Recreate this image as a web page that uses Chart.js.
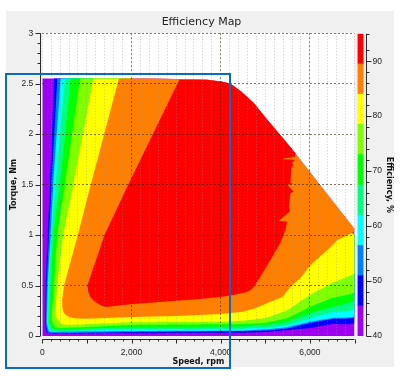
<!DOCTYPE html>
<html>
<head>
<meta charset="utf-8">
<style>
html,body{margin:0;padding:0;background:#fff;width:400px;height:380px;overflow:hidden}
#panel{position:absolute;left:6px;top:11px;width:388px;height:356px;background:#f0f0f0}
#wrapMain{position:absolute;left:0;top:0;width:400px;height:380px}
#wrapBar{position:absolute;left:352px;top:0;width:42px;height:380px}
#frame{position:absolute;left:5px;top:73px;width:226px;height:296px;box-sizing:border-box;border:2px solid #0a6cbf;pointer-events:none}
canvas{display:block}
</style>
<script src="https://cdn.jsdelivr.net/npm/chart.js@4/dist/chart.umd.min.js"></script>
</head>
<body>
<div id="panel"></div>
<div id="wrapMain"><canvas id="main" width="400" height="380"></canvas></div>
<div id="wrapBar"><canvas id="bar" width="42" height="380"></canvas></div>
<div id="frame"></div>
<script>
const titleText = "Efficiency Map";
const xTitle = "Speed, rpm";
const yTitle = "Torque, Nm";
const barTitle = "Efficiency, %";

const envelopeSpeed = [0,2500,3700,4040,4220,4440,4735,5050,5340,5680,6310,7000];
const envelopeTorque = [2.55,2.55,2.54,2.52,2.5,2.43,2.31,2.14,1.99,1.806,1.45,1.06];
const innerSpeed = [7000,2000];
const innerTorque = [1.0,2.55];

const blueSpeed = [263,173,121,76,70,110,500,2000,4000,4500,5000,5500,6000,6500,7000];
const blueTorque = [2.55,1.5,1,.5,.1,.03,.025,.027,.033,.033,.04,.06,.08,.119,.129];
const azureSpeed = [337,211,151,99,85,130,500,2000,4000,4500,5000,5500,6000,6500,7000];
const azureTorque = [2.55,1.5,1,.5,.12,.035,.03,.04,.047,.05,.055,.075,.129,.169,.188];
const cyanSpeed = [413,247,189,120,105,160,500,2000,4000,4500,5000,5500,6000,6500,7000];
const cyanTorque = [2.55,1.5,1,.5,.12,.045,.045,.05,.052,.053,.066,.09,.142,.179,.198];
const springSpeed = [510,301,211,151,130,190,500,2000,4000,4500,5000,5500,6000,6500,7000];
const springTorque = [2.55,1.5,1,.5,.13,.055,.05,.066,.072,.072,.083,.109,.179,.238,.268];
const greenSpeed = [638,398,247,189,165,240,500,2000,4000,4500,5000,5500,6000,6500,7000];
const greenTorque = [2.55,1.5,1,.5,.14,.07,.065,.086,.092,.095,.109,.142,.228,.288,.357];
const limeSpeed = [847,510,337,263,210,300,500,2000,4000,4500,5000,5500,6000,6500,7000];
const limeTorque = [2.55,1.5,1,.5,.15,.085,.08,.109,.116,.119,.132,.179,.288,.377,.437];
const yellowSpeed = [1146,697,472,337,300,420,600,2000,4000,4500,5000,5500,6000,6500,7000];
const yellowTorque = [2.55,1.5,1,.5,.2,.12,.109,.136,.142,.152,.179,.258,.407,.526,.625];
const orangeSpeed = [1717,1088,796,488,445,450,480,560,700,1000,2000,3000,4000,4500,4780,5050,5385,5565,5790,6015,6395,6620,7000];
const orangeTorque = [2.55,1.5,1,.5,.36,.28,.23,.195,.175,.17,.188,.198,.218,.24,.274,.327,.387,.489,.575,.704,.853,.952,1.032];
const redSpeed = [3072,1928,1393,1011,1030,1075,1180,1297,1410,2040,3540,3990,4285,4600,4725,4845,5115,5340,5450,5490,5300,5550,5530,5565,5640,5490,5640,5565,5580,5640,5600,5670,5415,5415,5655,5680];
const redTorque = [2.54,1.5,1,.5,.44,.387,.34,.308,.288,.317,.367,.387,.407,.437,.476,.556,.754,.923,1.05,1.134,1.14,1.233,1.283,1.415,1.43,1.498,1.505,1.515,1.663,1.696,1.713,1.746,1.75,1.76,1.77,1.81];

const purpleCol = "#a000f0", blueCol = "#0000ff", azureCol = "#0080ff", cyanCol = "#00ffff", springCol = "#00ff80",
      greenCol = "#00ff00", limeCol = "#80ff00", yellowCol = "#ffff00", orangeCol = "#ff8000", redCol = "#ff0000";

const barEdges = [40,45.5,51,56.5,62,67.5,73,78.5,84,89.5,95];
const barColors = [purpleCol,blueCol,azureCol,cyanCol,springCol,greenCol,limeCol,yellowCol,orangeCol,redCol];

const xTickLabels = [0,2000,4000,6000];
const yTickLabels = [0,0.5,1,1.5,2,2.5,3];
const barTickLabels = [40,50,60,70,80,90];

function shape(pts,color,tension){
  return {data:pts,showLine:true,fill:'shape',backgroundColor:color,borderWidth:0,borderColor:color,pointRadius:0,tension:tension};
}
/* lower bands close inside the orange region, so they never touch the outer limit curve */
function lowerBand(speeds, torques, color){
  const pts = speeds.map((s,i)=>({x:s,y:torques[i]}));
  innerSpeed.forEach((s,i)=>pts.push({x:s,y:innerTorque[i]}));
  return shape(pts,color,0.12);
}
/* upper bands close along the outer limit curve */
function upperBand(speeds, torques, color){
  const pts = speeds.map((s,i)=>({x:s,y:torques[i]}));
  const first = speeds[0], last = speeds[speeds.length-1];
  if(last===7000) pts.push({x:7000,y:envelopeTorque[envelopeTorque.length-1]});
  for(let i=envelopeSpeed.length-1;i>=0;i--){
    const s = envelopeSpeed[i];
    if(s>first && s<last) pts.push({x:s,y:envelopeTorque[i]});
  }
  return shape(pts,color,0);
}
const purplePts=[{x:0,y:0},{x:7000,y:0}];
for(let i=envelopeSpeed.length-1;i>=0;i--) purplePts.push({x:envelopeSpeed[i],y:envelopeTorque[i]});

function axisPlugin(specs, white){
  return {
    id:'offsetAxes',
    beforeDraw(chart){
      if(white){
        const a=chart.chartArea;
        chart.ctx.fillStyle='#fff';
        chart.ctx.fillRect(a.left,a.top,a.right-a.left,a.bottom-a.top);
      }
    },
    afterDraw(chart){
      const ctx=chart.ctx;
      ctx.save();
      ctx.strokeStyle='#2a2a2a';
      ctx.lineWidth=1;
      Object.values(chart.scales).forEach(sc=>{
        const spec=specs[sc.id];
        if(!spec) return;
        const a=chart.chartArea;
        ctx.beginPath();
        sc.ticks.forEach((t,i)=>{
          const p=Math.round(sc.getPixelForTick(i))+.5;
          const len=spec.major(t.value)?spec.lenMajor:spec.lenMinor;
          if(spec.side==='bottom'){ const y=Math.round(a.bottom+spec.gap)+.5; ctx.moveTo(p,y); ctx.lineTo(p,y+len); }
          if(spec.side==='left'){ const x=Math.round(a.left-spec.gap)+.5; ctx.moveTo(x,p); ctx.lineTo(x-len,p); }
          if(spec.side==='right'){ const x=Math.round(a.right+spec.gap)+.5; ctx.moveTo(x,p); ctx.lineTo(x+len,p); }
        });
        if(spec.side==='bottom'){ const y=Math.round(a.bottom+spec.gap)+.5; ctx.moveTo(a.left,y); ctx.lineTo(a.right,y); }
        if(spec.side==='left'){ const x=Math.round(a.left-spec.gap)+.5; ctx.moveTo(x,a.top); ctx.lineTo(x,a.bottom); }
        if(spec.side==='right'){ const x=Math.round(a.right+spec.gap)+.5; ctx.moveTo(x,a.top); ctx.lineTo(x,a.bottom+.5); }
        ctx.stroke();
      });
      ctx.restore();
    }
  };
}

const tickFont = {family:'"Liberation Sans"',size:8.5};
const titleFont = {family:'"DejaVu Sans"',size:8,weight:'bold'};
const darkGrid = 'rgba(50,35,0,0.62)';
const lightGrid = 'rgba(150,150,150,0.5)';

new Chart(document.getElementById('main'),{
  type:'scatter',
  data:{datasets:[
    upperBand(redSpeed,redTorque,redCol),
    upperBand(orangeSpeed,orangeTorque,orangeCol),
    lowerBand(yellowSpeed,yellowTorque,yellowCol),
    lowerBand(limeSpeed,limeTorque,limeCol),
    lowerBand(greenSpeed,greenTorque,greenCol),
    lowerBand(springSpeed,springTorque,springCol),
    lowerBand(cyanSpeed,cyanTorque,cyanCol),
    lowerBand(azureSpeed,azureTorque,azureCol),
    lowerBand(blueSpeed,blueTorque,blueCol),
    shape(purplePts,purpleCol,0)
  ]},
  plugins:[axisPlugin({
    x:{side:'bottom',gap:3,lenMajor:4,lenMinor:2,major:v=>v%1000===0},
    y:{side:'left',gap:2,lenMajor:5,lenMinor:3,major:v=>Math.round(v*10)%5===0}
  },true)],
  options:{
    responsive:false,animation:false,
    layout:{padding:{left:3,right:0,top:0,bottom:0}},
    plugins:{
      legend:{display:false},tooltip:{enabled:false},
      title:{display:true,text:titleText,color:'#222',font:{family:'"DejaVu Sans"',size:11,weight:'normal'},padding:{top:16,bottom:4}}
    },
    scales:{
      x:{type:'linear',min:0,max:7000,
        afterFit(s){s.height=44;},
        border:{display:false,dash:c=>(c.tick&&c.tick.value%2000===0&&c.tick.value>0)?[2,2]:[1,2]},
        grid:{z:1,drawTicks:false,lineWidth:1,color:c=>(c.tick.value%2000===0&&c.tick.value>0)?darkGrid:lightGrid},
        ticks:{stepSize:200,autoSkip:false,maxRotation:0,minRotation:0,padding:12,color:'#222',font:tickFont,
          callback:v=>xTickLabels.includes(v)?v.toLocaleString('en-US'):''},
        title:{display:true,text:xTitle,color:'#111',font:titleFont,padding:{top:0,bottom:13}}
      },
      y:{type:'linear',min:0,max:3,
        afterFit(s){s.width=39.3;},
        border:{display:false,dash:[2,2]},
        grid:{z:1,drawTicks:false,lineWidth:1,color:c=>{const t=Math.round(c.tick.value*10);return t%5!==0||t===0?'rgba(0,0,0,0)':(t===30?'rgba(110,110,110,0.9)':darkGrid);}},
        ticks:{stepSize:0.1,autoSkip:false,padding:9,color:'#222',font:tickFont,
          callback:v=>{const r=Math.round(v*10)/10;return yTickLabels.includes(r)?String(r):'';}},
        title:{display:true,text:yTitle,color:'#111',font:titleFont,padding:{top:6,bottom:0}}
      },
      spacer:{type:'linear',position:'right',
        afterFit(s){s.width=45.5;},
        border:{display:false},grid:{display:false,drawTicks:false},ticks:{display:false}
      }
    }
  }
});

new Chart(document.getElementById('bar'),{
  type:'bar',
  data:{labels:[''],datasets:barColors.map((col,i)=>({data:[[barEdges[i],barEdges[i+1]]],backgroundColor:col,borderWidth:0,categoryPercentage:1,barPercentage:1,grouped:false}))},
  plugins:[axisPlugin({y:{side:'right',gap:2,lenMajor:5,lenMinor:3,major:v=>v%10===0}},false)],
  options:{
    responsive:false,animation:false,
    layout:{padding:{left:5.5,right:0,top:33.7,bottom:44}},
    plugins:{legend:{display:false},tooltip:{enabled:false}},
    scales:{
      x:{display:false},
      y:{position:'right',min:40,max:95,
        afterFit(s){s.width=30.5;},
        border:{display:false},
        grid:{display:false,drawTicks:false},
        ticks:{stepSize:2,autoSkip:false,padding:9,color:'#222',font:tickFont,
          callback:v=>barTickLabels.includes(v)?String(v):''},
        title:{display:true,text:barTitle,color:'#111',font:titleFont,padding:{top:0,bottom:5}}
      }
    }
  }
});
</script>
</body>
</html>
